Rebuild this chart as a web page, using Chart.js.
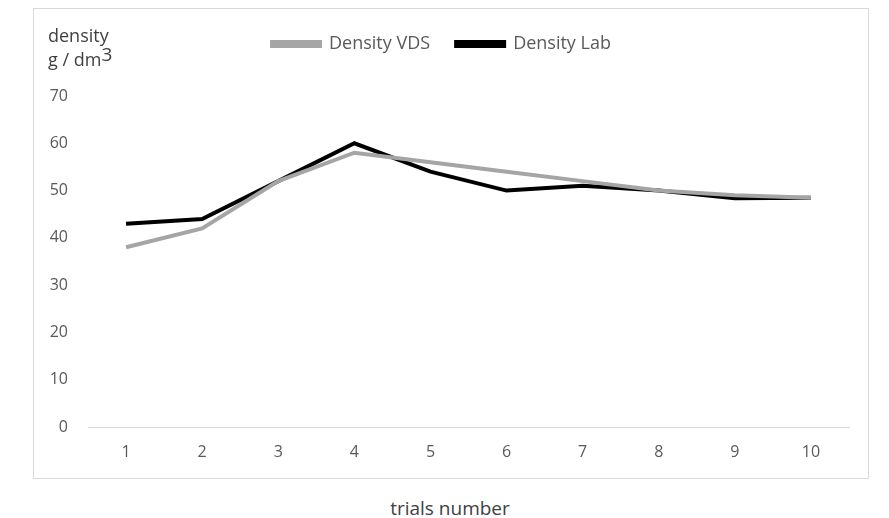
<!DOCTYPE html>
<html>
<head>
<meta charset="utf-8">
<script src="https://cdn.jsdelivr.net/npm/chart.js@4.4.0/dist/chart.umd.min.js"></script>
<style>
  html, body { margin: 0; padding: 0; background: #fff; }
  body { width: 889px; height: 518px; position: relative; overflow: hidden; font-family: "Open Sans", sans-serif; }
  #box { position: absolute; left: 33px; top: 8px; width: 834px; height: 469px; border: 1px solid #d9d9d9; }
  #yTitle { position: absolute; left: 48px; top: 23px; font-size: 18px; line-height: 24px; color: #404040; }
  #yTitle .sup { position: relative; top: -5px; font-size: 19px; }
  #xTitle { position: absolute; left: 0; width: 900px; top: 495px; text-align: center; font-size: 19px; color: #404040; }
</style>
</head>
<body>
<div id="box"><canvas id="chart" width="834" height="469"></canvas></div>
<div id="yTitle">density<br>g / dm<span class="sup">3</span></div>
<div id="xTitle">trials number</div>
<script>
// dados do gráfico
const trials = ['1', '2', '3', '4', '5', '6', '7', '8', '9', '10'];
const densityVds = [38, 42, 52, 58, 56, 54, 52, 50, 49, 48.5];
const densityLab = [43, 44, 52, 60, 54, 50, 51, 50, 48.4, 48.5];
const yTicks = [0, 10, 20, 30, 40, 50, 60, 70];

const tickColor = '#595959';
const axisColor = '#d9d9d9';

// espaço extra abaixo da legenda
const legendGap = {
  id: 'legendGap',
  beforeInit(chart) {
    const fit = chart.legend.fit;
    chart.legend.fit = function () {
      fit.call(this);
      this.height += 33;
    };
  }
};

const ctx = document.getElementById('chart').getContext('2d');
const chart = new Chart(ctx, {
  type: 'line',
  data: {
    labels: trials,
    datasets: [
      {
        label: 'Density VDS',
        data: densityVds,
        borderColor: '#a5a5a5',
        backgroundColor: '#a5a5a5',
        borderWidth: 4,
        pointRadius: 0,
        tension: 0
      },
      {
        label: 'Density Lab',
        data: densityLab,
        borderColor: '#000000',
        backgroundColor: '#000000',
        borderWidth: 4,
        pointRadius: 0,
        tension: 0
      }
    ]
  },
  plugins: [legendGap],
  options: {
    responsive: false,
    animation: false,
    layout: { padding: { top: 0, right: 19, left: 0, bottom: 0 } },
    plugins: {
      legend: {
        position: 'top',
        labels: {
          boxWidth: 48,
          boxHeight: 4,
          padding: 26,
          color: tickColor,
          font: { family: 'Open Sans', size: 18 }
        }
      },
      tooltip: { enabled: false }
    },
    scales: {
      x: {
        offset: true,
        grid: { display: false, drawTicks: false },
        border: { display: true, color: axisColor, width: 1 },
        ticks: { color: tickColor, padding: 16, font: { family: 'Open Sans', size: 16 } },
        afterFit(scale) { scale.height = 51; }
      },
      y: {
        min: 0,
        max: 70,
        afterBuildTicks(scale) { scale.ticks = yTicks.map(v => ({ value: v })); },
        grid: { display: false, drawTicks: false },
        border: { display: false },
        ticks: { color: tickColor, padding: 20, font: { family: 'Open Sans', size: 16 } },
        afterFit(scale) { scale.width = 54; }
      }
    }
  }
});
</script>
</body>
</html>
